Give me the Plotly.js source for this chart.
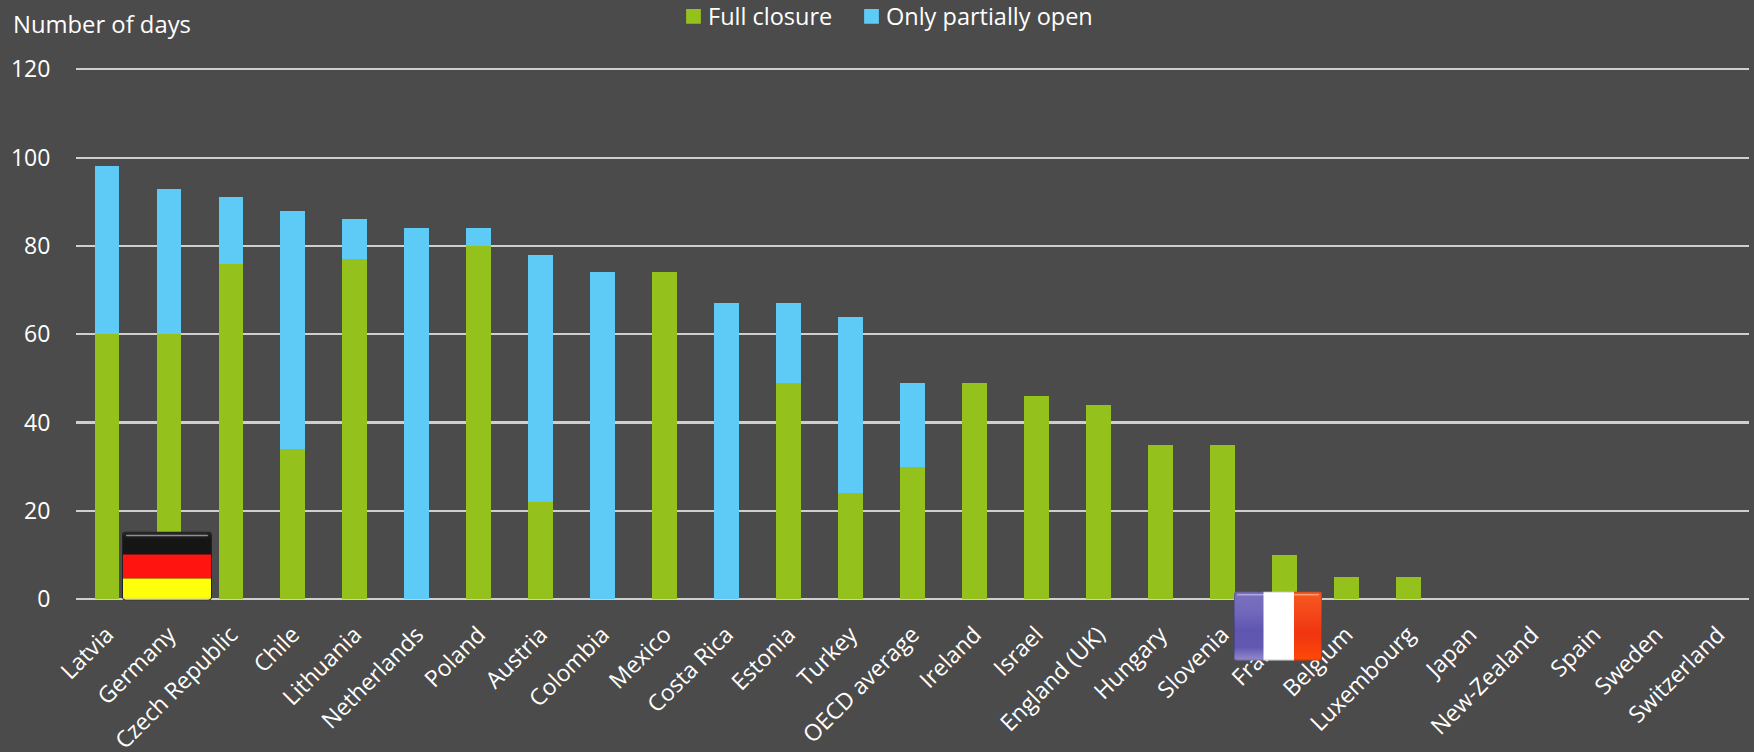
<!DOCTYPE html>
<html>
<head>
<meta charset="utf-8">
<script src="https://cdn.plot.ly/plotly-3.0.1.min.js"></script>
<style>
html,body{margin:0;padding:0;background:#4b4b4b;overflow:hidden}
#chart{width:1754px;height:752px}
</style>
</head>
<body>
<div id="chart"></div>
<script>
const countries = ["Latvia","Germany","Czech Republic","Chile","Lithuania","Netherlands","Poland","Austria","Colombia","Mexico","Costa Rica","Estonia","Turkey","OECD average","Ireland","Israel","England (UK)","Hungary","Slovenia","France","Belgium","Luxembourg","Japan","New-Zealand","Spain","Sweden","Switzerland"];
const fullClosure = [60,60,76,34,77,0,80,22,0,74,0,49,24,30,49,46,44,35,35,10,5,5,0,0,0,0,0];
const partiallyOpen = [38,33,15,54,9,84,4,56,74,0,67,18,40,19,0,0,0,0,0,0,0,0,0,0,0,0,0];
const yTicks = [0,20,40,60,80,100,120];

const W = 1754, H = 752;
const m = {l:76, r:5, t:68.1, b:152.5};
const pw = W-m.l-m.r, ph = H-m.t-m.b;
const px = v => (v-m.l)/pw;
const py = v => 1-(v-m.t)/ph;

function svg(s){return "data:image/svg+xml;charset=utf-8,"+encodeURIComponent(s);}
const germanFlag = svg(`<svg xmlns="http://www.w3.org/2000/svg" width="90" height="69" viewBox="0 0 90 69">
<defs><clipPath id="c"><rect x="1" y="1" width="88" height="67" rx="3"/></clipPath>
<linearGradient id="k" x1="0" y1="0" x2="0" y2="1"><stop offset="0" stop-color="#2b2b2b"/><stop offset=".35" stop-color="#151515"/><stop offset="1" stop-color="#161616"/></linearGradient></defs>
<rect x="0" y="0" width="90" height="69" rx="4" fill="#222"/>
<g clip-path="url(#c)"><rect y="0" width="90" height="23.5" fill="url(#k)"/><rect y="23" width="90" height="24" fill="#ff1410"/><rect y="47" width="90" height="22" fill="#ffff0c"/>
<rect x="4" y="3.2" width="82" height="1.6" rx=".8" fill="#8f8f8f"/><rect y="66" width="90" height="3" fill="#e8e85a"/></g></svg>`);
const frenchFlag = svg(`<svg xmlns="http://www.w3.org/2000/svg" width="88" height="70" viewBox="0 0 88 70">
<defs><clipPath id="c"><rect x="0" y="0" width="88" height="69" rx="3"/></clipPath>
<linearGradient id="b" x1="0" y1="0" x2="0" y2="1"><stop offset="0" stop-color="#7a72c0"/><stop offset=".3" stop-color="#7168bb"/><stop offset=".55" stop-color="#5f56b0"/><stop offset=".8" stop-color="#6258b2"/><stop offset="1" stop-color="#9a8fd0"/></linearGradient>
<linearGradient id="r" x1="0" y1="0" x2="0" y2="1"><stop offset="0" stop-color="#f65a20"/><stop offset=".3" stop-color="#f4481a"/><stop offset=".6" stop-color="#f03510"/><stop offset="1" stop-color="#ff4a08"/></linearGradient></defs>
<g clip-path="url(#c)"><rect x="0" width="30" height="70" fill="url(#b)"/><rect x="29.5" width="30.5" height="70" fill="#ffffff"/><rect x="60" width="28" height="70" fill="url(#r)"/>
<rect x="3" y="2.6" width="82" height="1.4" rx=".7" fill="#fff" fill-opacity=".4"/></g>
<rect x=".5" y=".5" width="87" height="68" rx="3" fill="none" stroke="#000" stroke-opacity=".2"/></svg>`);

const traces = [
  {type:"bar", name:"Full closure", x:countries, y:fullClosure, marker:{color:"#94c11c"}},
  {type:"bar", name:"Only partially open", x:countries, y:partiallyOpen, marker:{color:"#5dcbf5"}}
];
const fam = "'Open Sans', sans-serif";
const layout = {
  width:W, height:H, margin:m, autosize:false,
  paper_bgcolor:"#4b4b4b", plot_bgcolor:"#4b4b4b",
  barmode:"stack", bargap:0.6,
  font:{family:fam, size:22, color:"#ffffff"},
  showlegend:true,
  legend:{orientation:"h", x:0.3, xanchor:"left", y:0.95, yanchor:"top", bgcolor:"rgba(0,0,0,0)", font:{family:fam, size:23.5, color:"#ffffff"}, traceorder:"normal", entrywidth:133, entrywidthmode:"pixels"},
  xaxis:{type:"category", categoryorder:"array", categoryarray:countries, tickangle:-45, tickfont:{family:fam, size:23, color:"#ffffff"}, showgrid:false, zeroline:false, showline:false, ticks:"outside", ticklen:12, tickcolor:"rgba(0,0,0,0)", automargin:false},
  yaxis:{range:[0,120.3], tickmode:"array", tickvals:yTicks, ticktext:yTicks.map(String), showgrid:true, gridcolor:"#cfcfcf", gridwidth:2.2, zeroline:true, zerolinecolor:"#cfcfcf", zerolinewidth:2.2, showline:false, tickfont:{family:fam, size:23, color:"#ffffff"}, ticks:"outside", ticklen:20, tickcolor:"rgba(0,0,0,0)", automargin:false},
  annotations:[{text:"Number of days", xref:"paper", yref:"paper", x:px(11), y:py(24.5), xanchor:"left", yanchor:"middle", showarrow:false, font:{family:fam, size:23.8, color:"#ffffff"}}],
  images:[
    {source:germanFlag, xref:"paper", yref:"paper", x:px(122), y:py(532), sizex:90/pw, sizey:69/ph, xanchor:"left", yanchor:"top", sizing:"stretch", layer:"above"},
    {source:frenchFlag, xref:"paper", yref:"paper", x:px(1234), y:py(592), sizex:88/pw, sizey:70/ph, xanchor:"left", yanchor:"top", sizing:"stretch", layer:"above"}
  ]
};
Plotly.newPlot("chart", traces, layout, {displayModeBar:false, staticPlot:true}).then(gd => {
  // Place the legend in the top margin (a legend there would otherwise push the plot area) and size its swatches.
  const leg = gd.querySelector(".legend");
  leg.setAttribute("transform", "translate(668,-5.5)");
  leg.querySelectorAll(".legendpoints path").forEach(p => p.setAttribute("transform", "translate(25.5,0) scale(1.23)"));
  leg.querySelectorAll("rect.legendtoggle").forEach(r => r.setAttribute("width", 260));
  const clips = gd.querySelectorAll("defs clipPath[id*='legend'] rect, .legend rect.bg, .legend .scrollbox");
  clips.forEach(r => { if (r.tagName === "rect") { r.setAttribute("width", 600); r.setAttribute("height", 60); } });
});
</script>
</body>
</html>
